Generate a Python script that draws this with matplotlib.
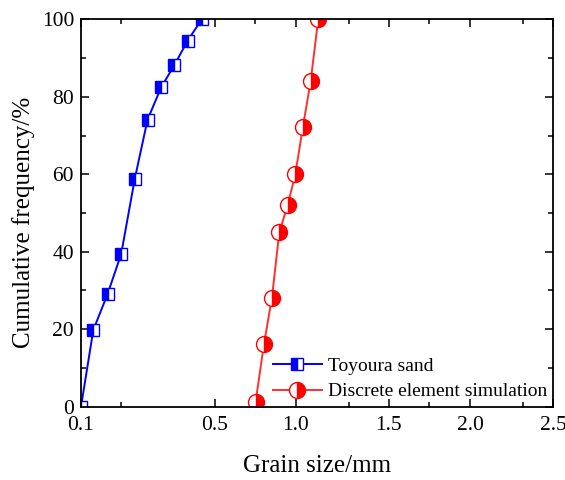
import numpy as np
import matplotlib
matplotlib.use("Agg")
import matplotlib.pyplot as plt

plt.rcParams['font.family'] = ['Liberation Serif', 'DejaVu Serif']
plt.rcParams['mathtext.fontset'] = 'stix'

# ---- data ----
toyoura_size = [0.100, 0.162, 0.234, 0.301, 0.330, 0.357, 0.386, 0.414, 0.442, 0.472]
toyoura_freq = [0.0, 19.8, 29.1, 39.4, 58.9, 74.1, 82.5, 88.2, 94.5, 100.0]

dem_size = [0.754, 0.805, 0.854, 0.899, 0.951, 0.998, 1.033, 1.070, 1.105]
dem_freq = [1.3, 16.1, 28.1, 45.0, 52.1, 60.1, 72.1, 84.1, 100.0]

major_ticks = [0.1, 0.5, 1.0, 1.5, 2.0, 2.5]
major_labels = ['0.1', '0.5', '1.0', '1.5', '2.0', '2.5']
minor_ticks = [0.3, 0.75, 1.25, 1.75, 2.25]

# non-uniform axis scale of the original (value -> fraction of axis width)
scale_vals = [0.1, 0.3, 0.5, 0.75, 1.0, 1.25, 1.5, 1.75, 2.0, 2.25, 2.5]
scale_frac = [0.0, 0.0841, 0.2839, 0.3686, 0.4549, 0.5684, 0.6525, 0.7373, 0.8242, 0.9364, 1.0]

sv = np.array([scale_vals[0] - 1.0] + scale_vals + [scale_vals[-1] + 1.0])
sf = np.array([scale_frac[0] - 1.0 / ((scale_vals[1] - scale_vals[0]) / (scale_frac[1] - scale_frac[0]))]
              + scale_frac
              + [scale_frac[-1] + 1.0 / ((scale_vals[-1] - scale_vals[-2]) / (scale_frac[-1] - scale_frac[-2]))])

def fwd(x):
    return np.interp(x, sv, sf)

def inv(u):
    return np.interp(u, sf, sv)

fig = plt.figure(figsize=(5.65, 4.80), dpi=100)
ax = fig.add_axes([81 / 565, 1 - 406.7 / 480, (553 - 81) / 565, (406.7 - 19.3) / 480])
ax.set_xscale('function', functions=(fwd, inv))

ax.plot(toyoura_size, toyoura_freq, color='#0000ff', lw=1.4, marker='s', ms=9,
        fillstyle='left', markerfacecolor='#0000ff', markerfacecoloralt='white',
        markeredgecolor='#0000ff', markeredgewidth=1.0, label='Toyoura sand')
ax.plot(dem_size, dem_freq, color='#ff3030', lw=1.4, marker='o', ms=11.5,
        fillstyle='right', markerfacecolor='#ff0000', markerfacecoloralt='white',
        markeredgecolor='#ff0000', markeredgewidth=1.0, label='Discrete element simulation')

ax.set_xlim(0.1, 2.5)
ax.set_ylim(0, 100)
ax.set_xticks(major_ticks)
ax.set_xticklabels(major_labels)
ax.set_xticks(minor_ticks, minor=True)
ax.set_yticks(np.arange(0, 101, 20))
ax.set_yticks(np.arange(10, 100, 20), minor=True)

ax.tick_params(which='both', direction='in', top=True, right=True, labelsize=15.5, width=1.1)
ax.tick_params(which='major', length=6)
ax.tick_params(axis='x', which='major', pad=7)
ax.tick_params(axis='y', which='major', pad=5)
ax.tick_params(which='minor', length=3.5)
for s in ax.spines.values():
    s.set_linewidth(1.3)

ax.set_xlabel('Grain size/mm', fontsize=18, labelpad=14)
ax.set_ylabel('Cumulative frequency/%', fontsize=18)
ax.yaxis.set_label_coords(-0.097, 0.477)

ax.legend(loc='lower right', frameon=False, fontsize=14, handlelength=2.5,
          borderaxespad=0.0, borderpad=0.32, labelspacing=0.4, handletextpad=0.3)

fig.savefig('out.png', dpi=100)
